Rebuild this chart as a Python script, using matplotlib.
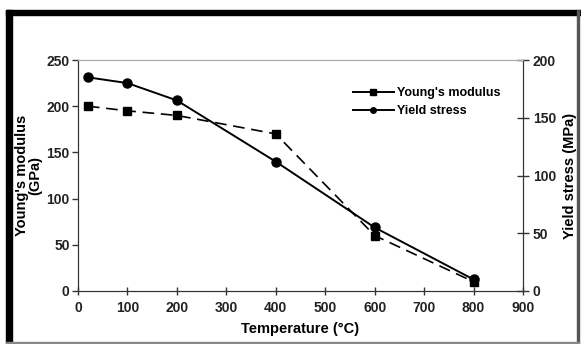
import numpy as np
import matplotlib.pyplot as plt
from matplotlib.patches import Rectangle
from matplotlib.lines import Line2D

plt.rcParams['font.family'] = ['Liberation Sans', 'DejaVu Sans']

temp = [20, 100, 200, 400, 600, 800]
young = [200, 195, 190, 170, 60, 10]
yield_stress = [185, 180, 165, 112, 55, 10]

W, H = 581, 344
fig = plt.figure(figsize=(W / 100, H / 100), dpi=100)

def fx(px):
    return px / W

def fy(py):
    return 1 - py / H

# outer frame
fig.patches.append(Rectangle((fx(6), fy(15)), fx(581 - 6), 5 / H, transform=fig.transFigure,
                             color='black', zorder=0))
fig.patches.append(Rectangle((fx(6), fy(343)), fx(6), (343 - 10) / H, transform=fig.transFigure,
                             color='black', zorder=0))
fig.patches.append(Rectangle((fx(577), fy(343)), fx(2), (343 - 10) / H, transform=fig.transFigure,
                             color='#555555', zorder=0))
fig.patches.append(Rectangle((fx(6), fy(344)), fx(573), 2 / H, transform=fig.transFigure,
                             color='#888888', zorder=0))

ax = fig.add_axes([fx(78), fy(291), fx(523 - 78), (291 - 60) / H])
ax2 = ax.twinx()

ax.plot(temp, young, color='black', ls=(0, (7, 4)), lw=1.2, marker='s', ms=6)
ax2.plot(temp, yield_stress, color='black', ls='-', lw=1.4, marker='o', ms=6.5)

ax.set_xlim(0, 900)
ax.set_ylim(0, 250)
ax2.set_ylim(0, 200)
ax.set_xticks(np.arange(0, 901, 100))
ax.set_yticks(np.arange(0, 251, 50))
ax2.set_yticks(np.arange(0, 201, 50))

for a in (ax, ax2):
    a.spines['top'].set_color('#aaaaaa')
    a.spines['left'].set_color('#333333')
    a.spines['bottom'].set_color('#333333')
    a.spines['right'].set_color('#333333')
    a.tick_params(labelsize=10, width=1, length=4, colors='#333333', labelcolor='#222222')
    for lab in a.get_xticklabels() + a.get_yticklabels():
        lab.set_fontweight('bold')

ax.tick_params(axis='x', direction='inout', length=6, pad=4)
ax.tick_params(axis='y', direction='out', length=4, pad=2)
ax2.tick_params(axis='y', direction='inout', length=8, pad=3)

ax.set_xlabel('Temperature (\u00b0C)', fontsize=10.5, fontweight='bold', labelpad=5)
ax.set_ylabel("Young's modulus\n(GPa)", fontsize=10.5, fontweight='bold', labelpad=3,
              linespacing=0.95)
ax2.set_ylabel('Yield stress (MPa)', fontsize=10.5, fontweight='bold', labelpad=5)

h1 = Line2D([], [], color='black', lw=1.4, marker='s', ms=4.5)
h2 = Line2D([], [], color='black', lw=1.4, marker='o', ms=4)
ax.legend(handles=[h1, h2], labels=["Young's modulus", 'Yield stress'],
          loc='upper right', bbox_to_anchor=(0.975, 0.93),
          frameon=False, handlelength=3.3, handletextpad=0.25,
          labelspacing=0.45, prop={'weight': 'bold', 'size': 9})

fig.savefig('out.png', dpi=100)
